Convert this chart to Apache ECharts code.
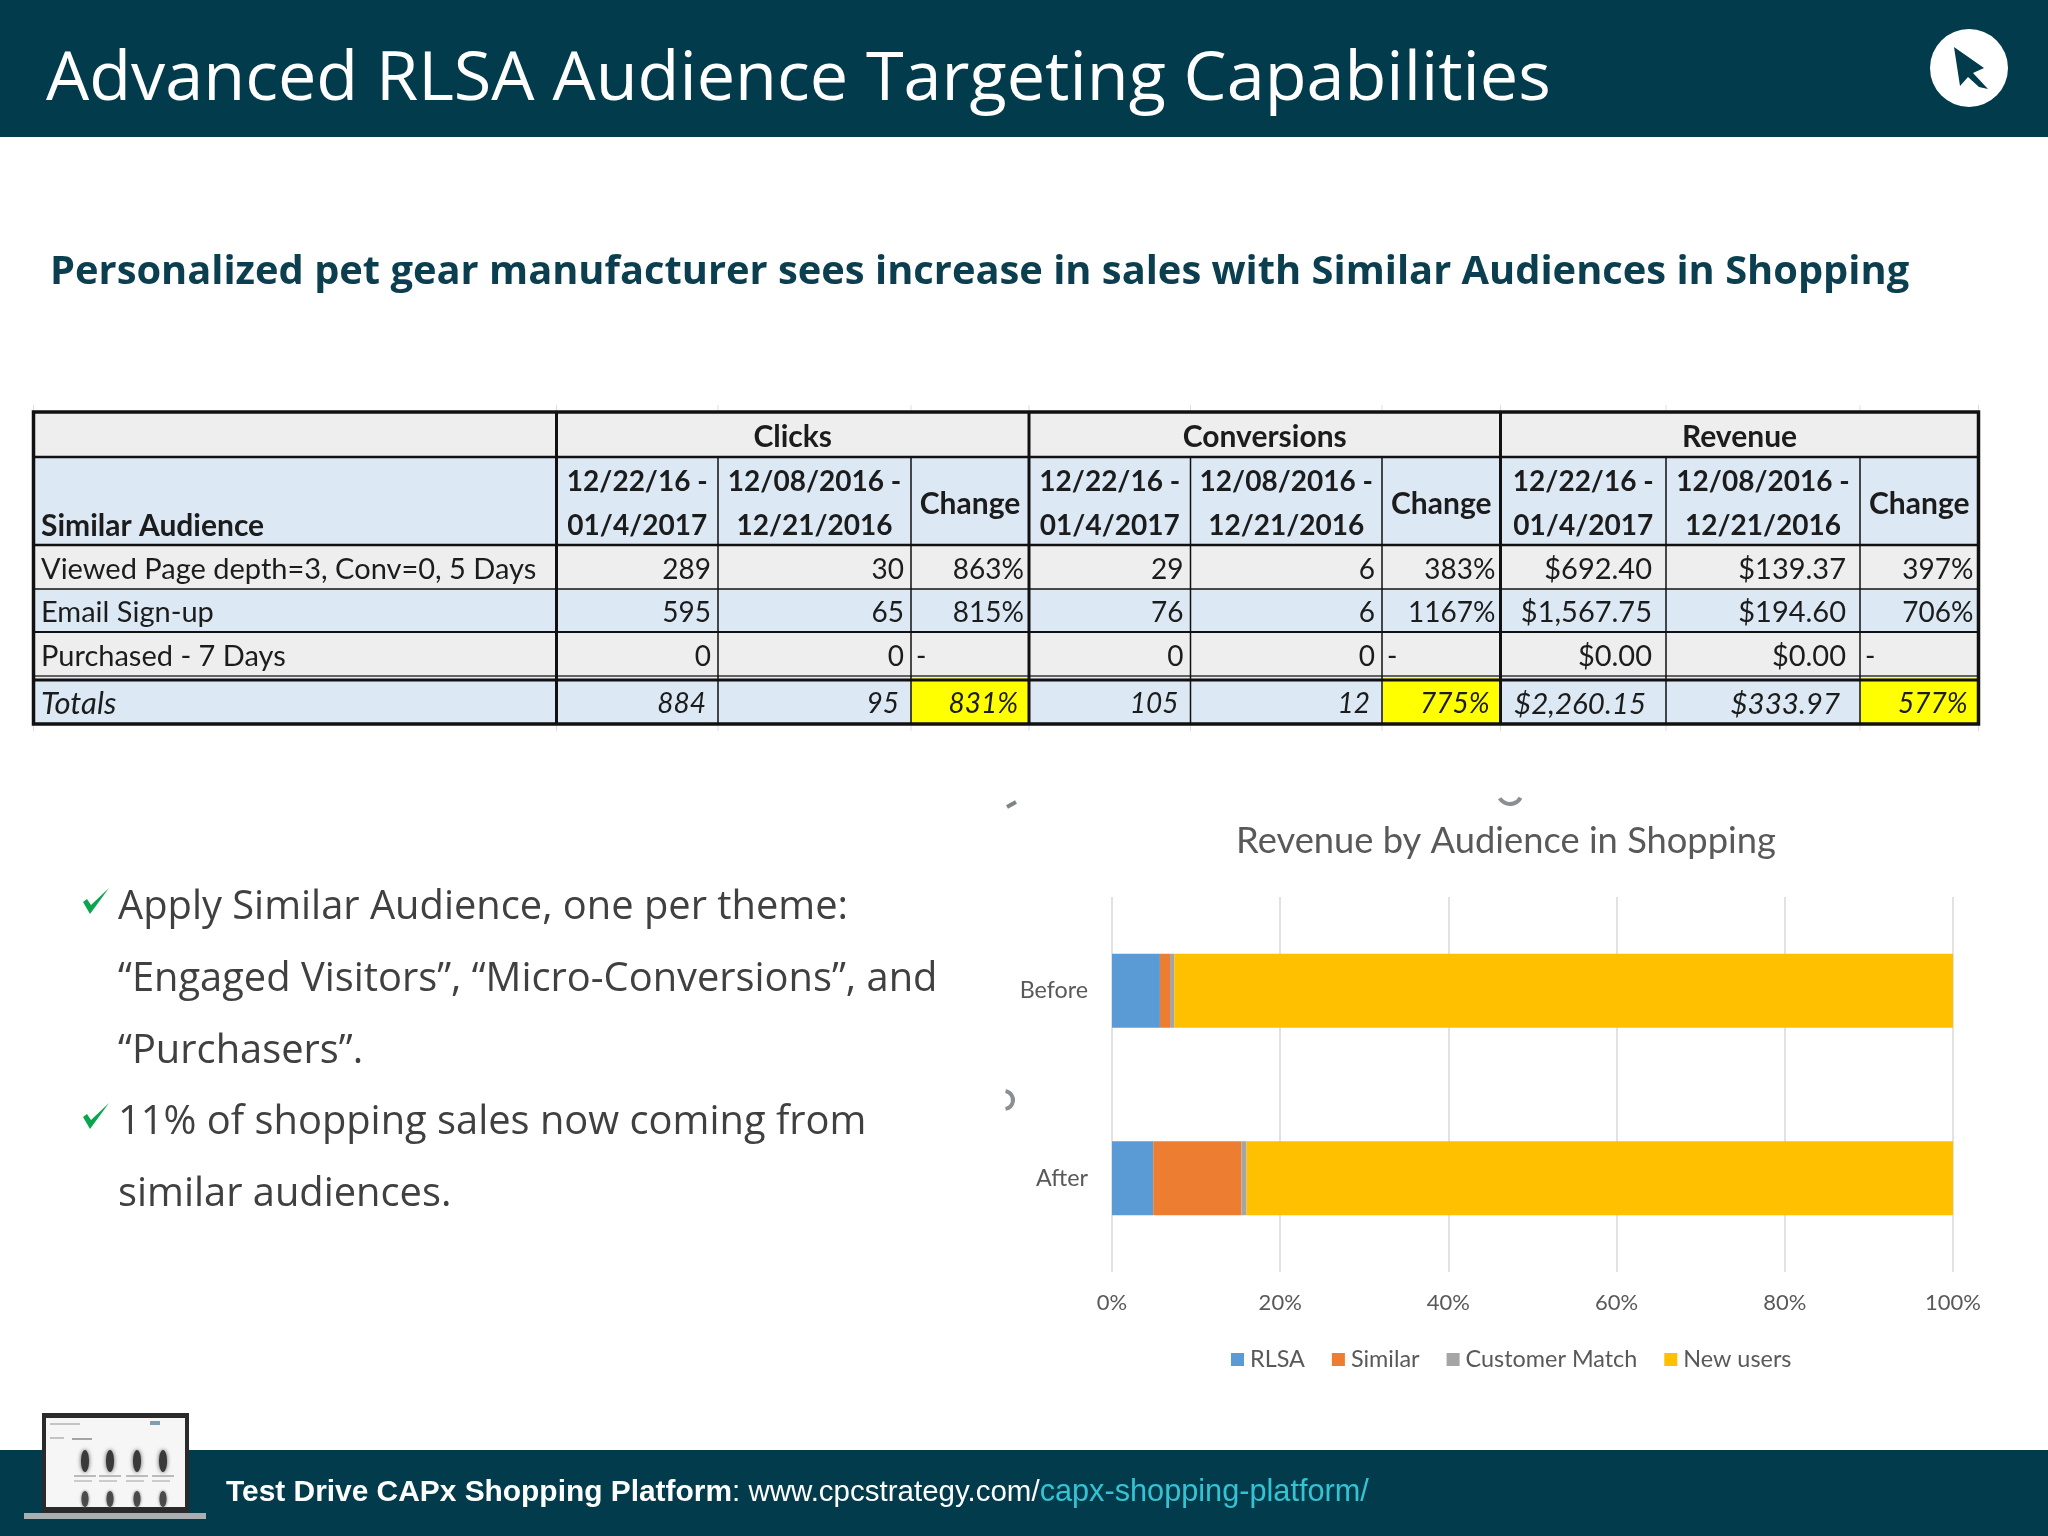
<!DOCTYPE html>
<html lang="en">
<head>
    <meta charset="UTF-8">
    <title>Advanced RLSA Audience Targeting Capabilities</title>
    <style>
        html, body { margin: 0; padding: 0; background: #fff; }
    </style>
</head>
<body>
<div id="main" style="width: 2048px;height: 1536px;"></div>
<script src="https://cdn.jsdelivr.net/npm/echarts@6/dist/echarts.min.js"></script>
<script>
    // chart data
    var chartCategories = ['Before', 'After'];
    var rlsaShare = [5.7, 4.9];
    var similarShare = [1.2, 10.5];
    var customerMatchShare = [0.5, 0.6];
    var newUsersShare = [92.6, 84];
    var axisTicks = [0, 20, 40, 60, 80, 100];

    // table data
    var tableGroups = ['Clicks', 'Conversions', 'Revenue'];
    var tableFirstHeader = 'Similar Audience';
    var rangeNew = ['12/22/16 -', '01/4/2017'];
    var rangeOld = ['12/08/2016 -', '12/21/2016'];
    var changeHeader = 'Change';
    var audienceRows = ['Viewed Page depth=3, Conv=0, 5 Days', 'Email Sign-up', 'Purchased - 7 Days', 'Totals'];
    var clicksNew = ['289', '595', '0', '884'];
    var clicksOld = ['30', '65', '0', '95'];
    var clicksChange = ['863%', '815%', '-', '831%'];
    var conversionsNew = ['29', '76', '0', '105'];
    var conversionsOld = ['6', '6', '0', '12'];
    var conversionsChange = ['383%', '1167%', '-', '775%'];
    var revenueNew = ['$692.40', '$1,567.75', '$0.00', '$2,260.15'];
    var revenueOld = ['$139.37', '$194.60', '$0.00', '$333.97'];
    var revenueChange = ['397%', '706%', '-', '577%'];

    // slide text
    var slideTitle = 'Advanced RLSA Audience Targeting Capabilities';
    var slideSubtitle = 'Personalized pet gear manufacturer sees increase in sales with Similar Audiences in Shopping';
    var bulletLines = [
        'Apply Similar Audience, one per theme:',
        '\u201cEngaged Visitors\u201d, \u201cMicro-Conversions\u201d, and',
        '\u201cPurchasers\u201d.',
        '11% of shopping sales now coming from',
        'similar audiences.'
    ];
    var bulletChecks = [0, 3];

    var DARK = '#023c4c';
    var TABLE_FONT = 'Lato, Carlito, sans-serif';
    var colX = [33.5, 556.5, 718, 911, 1029, 1190.5, 1382, 1500.5, 1666, 1860, 1978.5];
    var rowY = [412, 457, 545, 589, 632, 678, 724];
    var rowMid = [570, 613, 657, 704];
    var bulletY = [908, 980, 1052, 1123, 1195];
    var BLUE = '#dce9f5', GREY = '#efeeee';

    var g = [];

    function rect(x, y, w, h, fill) {
        g.push({type: 'rect', silent: true, shape: {x: x, y: y, width: w, height: h}, style: {fill: fill}});
    }

    function line(x1, y1, x2, y2, w, color) {
        g.push({
            type: 'line', silent: true, shape: {x1: x1, y1: y1, x2: x2, y2: y2},
            style: {stroke: color || '#111', lineWidth: w}
        });
    }

    function text(str, x, y, font, fill, align) {
        g.push({
            type: 'text', silent: true, x: x, y: y,
            style: {text: str, font: font, fill: fill, textAlign: align || 'left', textVerticalAlign: 'middle'}
        });
    }

    // header and footer bands
    rect(0, 0, 2048, 137, DARK);
    rect(0, 1450, 2048, 86, DARK);
    text(slideTitle, 46, 81, '68.4px "Open Sans"', '#fff');
    text(slideSubtitle, 50, 272.5, 'bold 39.85px "Open Sans"', '#0b3f4f');

    // logo
    g.push({type: 'circle', silent: true, shape: {cx: 1969, cy: 68, r: 39}, style: {fill: '#fff'}});
    g.push({
        type: 'polygon', silent: true,
        shape: {points: [[1954, 47], [1984, 68], [1973, 73], [1988, 89], [1979, 87], [1968, 77], [1960, 86]]},
        style: {fill: DARK}
    });

    // table
    var rowFills = [GREY, BLUE, GREY, BLUE, GREY, BLUE];
    rowFills.forEach(function (fill, i) {
        rect(colX[0], rowY[i], colX[10] - colX[0], rowY[i + 1] - rowY[i], fill);
    });
    [4, 7, 10].forEach(function (i) {
        rect(colX[i - 1], rowY[5], colX[i] - colX[i - 1], rowY[6] - rowY[5], '#ffff00');
    });

    // faint tick marks around the pasted table
    colX.forEach(function (x) {
        line(x, 405, x, 411, 1, '#dddddd');
        line(x, 725, x, 731, 1, '#dddddd');
    });

    // rules
    line(colX[0], rowY[1], colX[10], rowY[1], 2.5);
    line(colX[0], rowY[2], colX[10], rowY[2], 2.5);
    line(colX[0], rowY[3], colX[10], rowY[3], 1.5);
    line(colX[0], rowY[4], colX[10], rowY[4], 2);
    line(colX[0], 676, colX[10], 676, 1.5, '#333');
    line(colX[0], 680, colX[10], 680, 3);
    [2, 3, 5, 6, 8, 9].forEach(function (i) {
        line(colX[i], rowY[1], colX[i], rowY[6], 1.5);
    });
    [1, 4, 7].forEach(function (i) {
        line(colX[i], rowY[0], colX[i], rowY[6], 3);
    });
    g.push({
        type: 'rect', silent: true,
        shape: {x: colX[0], y: rowY[0], width: colX[10] - colX[0], height: rowY[6] - rowY[0]},
        style: {fill: 'none', stroke: '#111', lineWidth: 3.5}
    });

    // table text
    var HEAD = 'bold 30px ' + TABLE_FONT;
    var DATES = 'bold 28px ' + TABLE_FONT;
    var BODY = '28px ' + TABLE_FONT;
    var LABEL = '29px ' + TABLE_FONT;
    var ITALIC = 'italic 28px ' + TABLE_FONT;
    var INK = '#1c1c1c';
    tableGroups.forEach(function (name, i) {
        var left = colX[1 + i * 3], right = colX[4 + i * 3];
        text(name, (left + right) / 2, 437, HEAD, INK, 'center');
        [rangeNew, rangeOld].forEach(function (range, j) {
            var mid = (colX[1 + i * 3 + j] + colX[2 + i * 3 + j]) / 2;
            text(range[0], mid, 482, DATES, INK, 'center');
            text(range[1], mid, 526, DATES, INK, 'center');
        });
        text(changeHeader, (colX[3 + i * 3] + right) / 2, 504, HEAD, INK, 'center');
    });
    text(tableFirstHeader, 41, 526, HEAD, INK);
    audienceRows.forEach(function (name, r) {
        text(name, 41, rowMid[r], r === 3 ? 'italic 31px ' + TABLE_FONT : LABEL, INK);
    });
    var valueColumns = [
        clicksNew, clicksOld, clicksChange,
        conversionsNew, conversionsOld, conversionsChange,
        revenueNew, revenueOld, revenueChange
    ];
    var valueRight = [7, 7, 5, 7, 7, 5, 14, 14, 5];
    var totalRight = [12, 12, 11, 12, 12, 11, 20, 20, 11];
    valueColumns.forEach(function (col, c) {
        col.forEach(function (val, r) {
            var money = c === 6 || c === 7;
            var font = r === 3 ? (money ? 'italic 29.5px ' + TABLE_FONT : ITALIC) : (money ? LABEL : BODY);
            if (val === '-') {
                text(val, colX[c + 1] + 5, rowMid[r], font, INK);
            } else {
                var pad = r === 3 ? totalRight[c] : valueRight[c];
                text(val, colX[c + 2] - pad, rowMid[r], font, INK, 'right');
            }
        });
    });

    // bullets
    bulletLines.forEach(function (str, i) {
        text(str, 118, bulletY[i], '39.85px "Open Sans"', '#404040');
    });
    bulletChecks.forEach(function (i) {
        var y = bulletY[i];
        g.push({
            type: 'polygon', silent: true,
            shape: {points: [[83, y - 6], [87, y - 9], [91, y - 3], [109, y - 20], [90, y + 6]]},
            style: {fill: '#0aa64f'}
        });
    });

    // cut-off chart selection handles
    line(1007, 807, 1016, 802, 4, '#7f8487');
    [[1510, 792, 12, 0.5, 2.6], [1004, 1100, 9, -1.4, 1.4]].forEach(function (a) {
        g.push({
            type: 'arc', silent: true,
            shape: {cx: a[0], cy: a[1], r: a[2], startAngle: a[3], endAngle: a[4]},
            style: {stroke: '#8a8f92', lineWidth: 4, fill: 'none'}
        });
    });

    // laptop thumbnail
    rect(42, 1413, 147, 101, '#2a2a2a');
    rect(46, 1418, 139, 89, '#f6f6f6');
    rect(24, 1513, 182, 6, '#a9aeb1');
    [85, 110, 137, 163].forEach(function (x) {
        g.push({
            type: 'ellipse', silent: true, shape: {cx: x, cy: 1461, rx: 4, ry: 11},
            style: {fill: '#3a3a3a', shadowBlur: 4, shadowColor: '#555'}
        });
        g.push({
            type: 'ellipse', silent: true, shape: {cx: x, cy: 1499, rx: 3.5, ry: 8},
            style: {fill: '#4a4a4a', shadowBlur: 3, shadowColor: '#666'}
        });
        rect(x - 11, 1475, 22, 2, '#bbbbbb');
        rect(x - 11, 1480, 18, 2, '#cccccc');
    });
    rect(50, 1423, 30, 2, '#c4c4c4');
    rect(150, 1421, 10, 4, '#7f9fb0');
    rect(50, 1437, 14, 2, '#c4c4c4');
    rect(72, 1438, 20, 2, '#a4a4a4');

    // footer text
    g.push({
        type: 'text', silent: true, x: 226, y: 1492.5,
        style: {
            text: '{b|Test Drive CAPx Shopping Platform}{w|: www.cpcstrategy.com/}{t|capx-shopping-platform/}',
            textVerticalAlign: 'middle',
            rich: {
                b: {font: 'bold 29.9px "Liberation Sans"', fill: '#fff', color: '#fff'},
                w: {font: '29.5px "Liberation Sans"', fill: '#fff', color: '#fff'},
                t: {font: '30.7px "Liberation Sans"', fill: '#35c3d3', color: '#35c3d3'}
            }
        }
    });

    function barSeries(name, values, color) {
        return {
            name: name, type: 'bar', stack: 'share', data: values, barWidth: 74,
            itemStyle: {color: color}, silent: true
        };
    }

    var myChart = echarts.init(document.getElementById('main'));
    myChart.setOption({
        animation: false,
        backgroundColor: '#fff',
        textStyle: {fontFamily: TABLE_FONT},
        title: {
            text: 'Revenue by Audience in Shopping',
            left: 1501, top: 818, textAlign: 'center',
            textStyle: {fontSize: 36.3, fontWeight: 'normal', color: '#595959', fontFamily: TABLE_FONT}
        },
        legend: {
            left: 1226, top: 1343, itemWidth: 13, itemHeight: 13, itemGap: 27,
            icon: 'rect',
            textStyle: {fontSize: 23.4, color: '#595959', padding: [0, 0, 0, 1]},
            data: ['RLSA', 'Similar', 'Customer Match', 'New users']
        },
        grid: {left: 1112, right: 95, top: 897, height: 375},
        xAxis: {
            type: 'value', min: axisTicks[0], max: axisTicks[5], interval: 20,
            axisLine: {show: false}, axisTick: {show: false},
            splitLine: {lineStyle: {color: '#d9d9d9', width: 1.5}},
            axisLabel: {formatter: '{value}%', fontSize: 22, color: '#595959', margin: 20}
        },
        yAxis: {
            type: 'category', inverse: true, data: chartCategories,
            axisLine: {show: false}, axisTick: {show: false},
            axisLabel: {fontSize: 23.3, color: '#595959', margin: 24}
        },
        series: [
            barSeries('RLSA', rlsaShare, '#5b9bd5'),
            barSeries('Similar', similarShare, '#ed7d31'),
            barSeries('Customer Match', customerMatchShare, '#a5a5a5'),
            barSeries('New users', newUsersShare, '#ffc000')
        ],
        graphic: {elements: g}
    });
</script>
</body>
</html>
